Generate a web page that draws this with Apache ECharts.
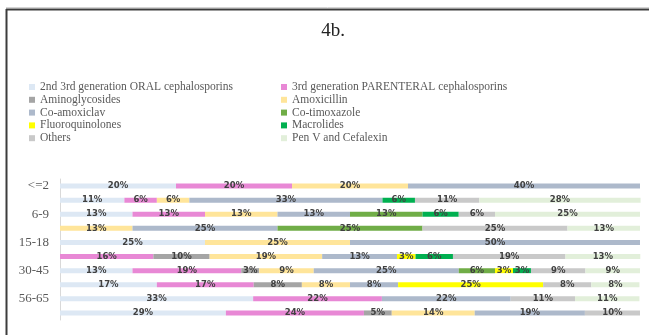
<!DOCTYPE html>
<html>
<head>
<meta charset="utf-8">
<script src="https://cdn.jsdelivr.net/npm/echarts@6/dist/echarts.min.js"></script>
<style>
  html, body { margin: 0; padding: 0; background: #fff; }
  #chart { width: 649px; height: 335px; }
</style>
</head>
<body>
<div id="chart"></div>
<script>
// Age groups (every other row carries a label)
const ageGroups = ['<=2', '', '6-9', '', '15-18', '', '30-45', '', '56-65', ''];

// Share of prescriptions (%) per antibiotic class, one entry per row
const oralCeph       = [20, 11.1, 12.5, null, 25, null, 12.5, 16.7, 33.3, 28.6];
const parenteralCeph = [20, 5.6, 12.5, null, null, 16.1, 18.75, 16.7, 22.2, 23.8];
const aminoglycosides = [null, null, null, null, null, 9.7, 3.1, 8.3, null, 4.8];
const amoxicillin    = [20, 5.6, 12.5, 12.5, 25, 19.4, 9.4, 8.3, null, 14.3];
const coAmoxiclav    = [40, 33.3, 12.5, 25, 50, 12.9, 25, 8.3, 22.2, 19.0];
const coTimoxazole   = [null, null, 12.5, 25, null, null, 6.25, null, null, null];
const fluoroquinolones = [null, null, null, null, null, 3.2, 3.1, 25, null, null];
const macrolides     = [null, 5.6, 6.25, null, null, 6.45, 3.1, null, null, null];
const others         = [null, 11.1, 6.25, 25, null, 19.4, 9.4, 8.3, 11.1, 9.5];
const penVCefalexin  = [null, 27.8, 25, 12.5, null, 12.9, 9.4, 8.3, 11.1, null];

const seriesDefs = [
  { name: '2nd 3rd generation ORAL cephalosporins', data: oralCeph, color: '#dde8f4' },
  { name: '3rd generation PARENTERAL cephalosporins', data: parenteralCeph, color: '#e888d5' },
  { name: 'Aminoglycosides', data: aminoglycosides, color: '#a5a5a5' },
  { name: 'Amoxicillin', data: amoxicillin, color: '#ffe59a' },
  { name: 'Co-amoxiclav', data: coAmoxiclav, color: '#adb9cb' },
  { name: 'Co-timoxazole', data: coTimoxazole, color: '#70ad47' },
  { name: 'Fluoroquinolones', data: fluoroquinolones, color: '#ffff00' },
  { name: 'Macrolides', data: macrolides, color: '#00b050' },
  { name: 'Others', data: others, color: '#c9c9c9' },
  { name: 'Pen V and Cefalexin', data: penVCefalexin, color: '#e2efda' }
];

const legendLeft = seriesDefs.filter((_, i) => i % 2 === 0).map(s => s.name);
const legendRight = seriesDefs.filter((_, i) => i % 2 === 1).map(s => s.name);

const legendBase = {
  orient: 'vertical',
  top: 76,
  icon: 'rect',
  itemWidth: 6,
  itemHeight: 6,
  itemGap: 0.8,
  selectedMode: false,
  textStyle: {
    fontFamily: 'Liberation Serif',
    fontSize: 11.5,
    lineHeight: 12,
    color: '#595959'
  }
};

const chart = echarts.init(document.getElementById('chart'), null, { renderer: 'canvas' });

chart.setOption({
  animation: false,
  backgroundColor: '#ffffff',
  title: {
    text: '4b.',
    left: 328,
    top: 17,
    textAlign: 'center',
    textStyle: {
      fontFamily: 'Liberation Serif',
      fontSize: 19,
      fontWeight: 'normal',
      color: '#222222'
    }
  },
  legend: [
    Object.assign({}, legendBase, { left: 24, data: legendLeft }),
    Object.assign({}, legendBase, { left: 276, data: legendRight })
  ],
  grid: { left: 60, right: 9, top: 179, bottom: 15, containLabel: false },
  xAxis: {
    type: 'value',
    min: 0,
    max: 100,
    show: false
  },
  yAxis: {
    type: 'category',
    inverse: true,
    data: ageGroups,
    axisLine: { show: true, lineStyle: { color: '#d9d9d9', width: 1 } },
    axisTick: { show: false },
    axisLabel: {
      interval: 0,
      margin: 11,
      fontFamily: 'Liberation Serif',
      fontSize: 13,
      color: '#595959'
    }
  },
  series: seriesDefs.map(s => ({
    name: s.name,
    type: 'bar',
    stack: 'share',
    data: s.data,
    barWidth: 5,
    clip: false,
    itemStyle: { color: s.color },
    label: {
      show: true,
      position: 'inside',
      formatter: p => Math.round(p.value) + '%',
      fontFamily: 'DejaVu Sans',
      fontWeight: 'bold',
      fontSize: 8.5,
      color: '#404040'
    }
  })),
  graphic: [
    { type: 'line', shape: { x1: 6, y1: 7.5, x2: 649, y2: 7.5 }, style: { stroke: '#d4d4d4', lineWidth: 1 }, silent: true },
    { type: 'line', shape: { x1: 6, y1: 9.5, x2: 649, y2: 9.5 }, style: { stroke: '#3c3c3c', lineWidth: 2 }, silent: true },
    { type: 'line', shape: { x1: 6.5, y1: 9, x2: 6.5, y2: 335 }, style: { stroke: '#3c3c3c', lineWidth: 2 }, silent: true }
  ]
});
</script>
</body>
</html>
